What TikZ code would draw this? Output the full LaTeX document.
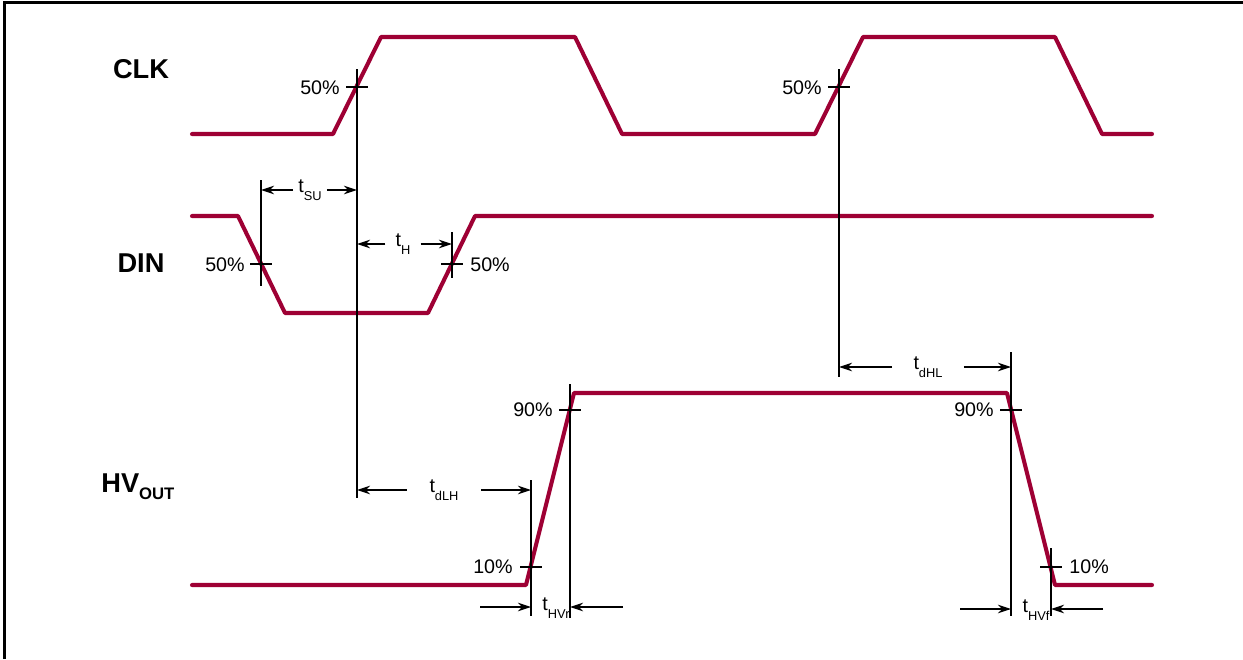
\documentclass[tikz,border=0pt]{standalone}
\usepackage{fontspec}
\setmainfont{Liberation Sans}
\usetikzlibrary{arrows.meta}
\definecolor{sigred}{RGB}{158,0,52}
\newcommand{\tsub}[1]{t\raisebox{-4.5pt}{\fontsize{7.3}{8}\selectfont #1}}
\tikzset{
  signal/.style={draw=sigred, line width=2.3pt, line join=round, line cap=round},
  guide/.style={draw, line width=0.6pt},
  dim/.style={-{Stealth[length=2.6mm,width=1.7mm]}, line width=0.6pt},
  signame/.style={font=\bfseries\fontsize{15.5}{18}\selectfont, inner sep=0pt},
  pct/.style={font=\fontsize{11.2}{13}\selectfont, inner sep=0pt, anchor=east},
  tlab/.style={font=\fontsize{11.2}{13}\selectfont, inner ysep=0pt}
}
\begin{document}
\begin{tikzpicture}[x=0.02cm, y=-0.02cm]
\useasboundingbox (0,0) rectangle (1243,659);
\draw[line width=1.7pt] (4.5,659) -- (4.5,2.5) -- (1243,2.5);

% waveforms
\draw[signal] (192,134) -- (333,134) -- (381,37) -- (575,37) -- (622,134) -- (815,134)
  -- (863,37) -- (1055,37) -- (1102,134) -- (1152,134);
\draw[signal] (192,216) -- (238,216) -- (285,313) -- (428,313) -- (475,216) -- (1152,216);
\draw[signal] (192,585) -- (526,585) -- (574,393) -- (1007,393) -- (1055,585) -- (1152,585);

% signal names
\node[signame, anchor=base] (clk) at (141,78) {CLK};
\node[signame, anchor=base] (din) at (141,272) {DIN};
\node[signame, anchor=base west] (hvout) at (101,492) {HV\raisebox{-4.5pt}{\fontsize{9.5}{11}\selectfont OUT}};

% crossing points
\coordinate (clkA) at (357,87);
\coordinate (clkB) at (839,87);
\coordinate (dinA) at (261,264);
\coordinate (dinB) at (452,264);
\coordinate (rise10) at (531,567);
\coordinate (rise90) at (570,410);
\coordinate (fall90) at (1011,410);
\coordinate (fall10) at (1051,567);

% level marks
\draw[guide] (346,87) -- (368,87);
\draw[guide] (828,87) -- (850,87);
\draw[guide] (250,264) -- (272,264);
\draw[guide] (441,264) -- (463,264);
\draw[guide] (520,567) -- (542,567);
\draw[guide] (559,410) -- (581,410);
\draw[guide] (1000,410) -- (1022,410);
\draw[guide] (1040,567) -- (1062,567);
\node[pct] (pclkA) at (340,88) {50\%};
\node[pct] (pclkB) at (822,88) {50\%};
\node[pct] (pdinA) at (245,265) {50\%};
\node[pct, anchor=west] (pdinB) at (470,265) {50\%};
\node[pct] (pr10) at (513,567) {10\%};
\node[pct] (pr90) at (553,410) {90\%};
\node[pct] (pf90) at (994,410) {90\%};
\node[pct, anchor=west] (pf10) at (1069,567) {10\%};

% guide lines
\draw[guide] (clkA) ++(0,-18) -- (357,498);
\draw[guide] (clkB) ++(0,-18) -- (839,377);
\draw[guide] (261,180) -- (261,286);
\draw[guide] (452,232) -- (452,278);
\draw[guide] (531,480) -- (531,616);
\draw[guide] (570,384) -- (570,618);
\draw[guide] (1011,352) -- (1011,616);
\draw[guide] (1051,548) -- (1051,616);

% timing labels
\node[tlab, inner xsep=0.1cm] (tsu) at (310,190) {\tsub{SU}};
\node[tlab, inner xsep=0.2cm] (th) at (403,244) {\tsub{H}};
\node[tlab, inner xsep=0.45cm] (tdlh) at (444,490) {\tsub{dLH}};
\node[tlab, inner xsep=0.42cm] (tdhl) at (928,367) {\tsub{dHL}};
\node[tlab, inner xsep=0pt] (thvr) at (556,608) {\tsub{HVr}};
\node[tlab, inner xsep=0pt] (thvf) at (1036,610) {\tsub{HVf}};
\coordinate (hvrL) at (480,607);
\coordinate (hvrR) at (623,607);
\coordinate (hvfL) at (960,609);
\coordinate (hvfR) at (1103,609);

\draw[dim] (tsu) -- (tsu -| dinA);
\draw[dim] (tsu) -- (tsu -| clkA);
\draw[dim] (th) -- (th -| clkA);
\draw[dim] (th) -- (th -| dinB);
\draw[dim] (tdlh) -- (tdlh -| clkA);
\draw[dim] (tdlh) -- (tdlh -| rise10);
\draw[dim] (tdhl) -- (tdhl -| clkB);
\draw[dim] (tdhl) -- (tdhl -| fall90);
\draw[dim] (hvrL) -- (hvrL -| rise10);
\draw[dim] (hvrR) -- (hvrR -| rise90);
\draw[dim] (hvfL) -- (hvfL -| fall90);
\draw[dim] (hvfR) -- (hvfR -| fall10);
\end{tikzpicture}
\end{document}
